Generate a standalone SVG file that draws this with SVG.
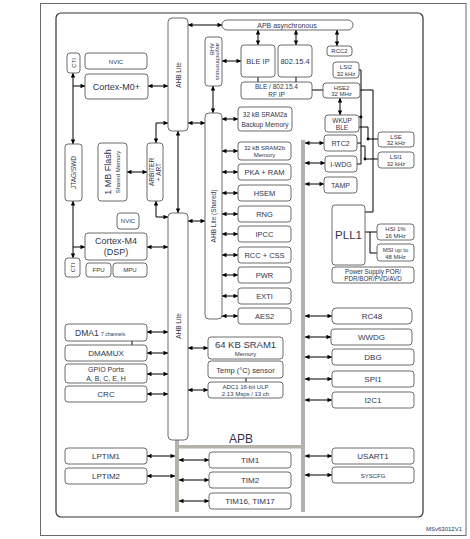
<svg xmlns="http://www.w3.org/2000/svg" width="470" height="539" viewBox="0 0 470 539">
<defs>
<style>
.b{fill:#fff;stroke:#5b5b5b;stroke-width:0.9}
.t{font-family:"Liberation Sans",Arial,sans-serif;fill:#30354d;text-anchor:middle}
.c{stroke:#000;stroke-width:1;fill:none}
.d{stroke:#000;stroke-width:1;fill:none;marker-start:url(#a);marker-end:url(#a)}
.e{stroke:#000;stroke-width:1;fill:none;marker-end:url(#a)}
.g{fill:#b5b1ab}
</style>
<marker id="a" viewBox="0 0 6 6" refX="6" refY="3" markerWidth="5" markerHeight="4.5" markerUnits="userSpaceOnUse" orient="auto-start-reverse"><path d="M0,0 L6,3 L0,6 z" fill="#000"/></marker>
</defs>
<rect x="0" y="0" width="470" height="539" fill="#fff"/>
<rect x="40.5" y="3.5" width="425.5" height="532" fill="none" stroke="#6a6a6a" stroke-width="1"/>
<rect x="56" y="13" width="367" height="504" rx="5" fill="none" stroke="#333" stroke-width="1.2"/>
<rect class="g" x="301" y="140" width="4" height="372"/>
<rect class="g" x="175" y="440" width="4" height="72"/>
<rect class="g" x="175" y="445" width="130" height="3.5"/>
<text class="t" x="241" y="443" font-size="12">APB</text>
<text x="462" y="531" font-family="'Liberation Sans',Arial,sans-serif" font-size="6" fill="#30354d" text-anchor="end">MSv63012V1</text>

<g id="connectors">
<path class="d" d="M73,73 V144"/>
<path class="e" d="M73,86 H85"/>
<path class="d" d="M148,86 H168"/>
<path class="d" d="M188,25 H222"/>
<path class="d" d="M188,123 H205"/>
<path class="d" d="M222,61 H241"/>
<path class="d" d="M213,86 V113"/>
<path class="d" d="M258,30 V45"/>
<path class="d" d="M296,30 V45"/>
<path class="d" d="M337,30 V46"/>
<path class="c" d="M258,77 V82 M296,77 V82 M312,90 H323"/>
<path class="d" d="M340,98 V115"/>
<path class="d" d="M222,119 H238"/>
<path class="d" d="M168,123 H156 V143"/>
<path class="d" d="M127,172 H147"/>
<path class="d" d="M178,131 V213"/>
<path class="d" d="M156,201 V217 H168"/>
<path class="d" d="M73,201 V258"/>
<path class="e" d="M73,247 H85"/>
<path class="d" d="M147,247 H168"/>
<path class="d" d="M188,221 H205"/>
<path class="d" d="M222,151 H238"/>
<path class="d" d="M222,172 H238"/>
<path class="d" d="M222,193 H238"/>
<path class="d" d="M222,214 H238"/>
<path class="d" d="M222,234 H238"/>
<path class="d" d="M222,255 H238"/>
<path class="d" d="M222,275 H238"/>
<path class="d" d="M222,296 H238"/>
<path class="d" d="M222,316 H238"/>
<path class="d" d="M147,332 H168"/>
<path class="d" d="M147,353 H168"/>
<path class="d" d="M147,374 H168"/>
<path class="d" d="M147,394 H168"/>
<path class="c" d="M132,341 V345 M246,378 V382"/>
<path class="d" d="M188,348 H208"/>
<path class="d" d="M188,390 H208"/>
<path class="d" d="M305,143 H324"/>
<path class="d" d="M305,163 H325"/>
<path class="d" d="M305,184 H324"/>
<path class="d" d="M305,316 H332"/>
<path class="d" d="M305,337 H331"/>
<path class="d" d="M305,357 H332"/>
<path class="d" d="M305,379 H332"/>
<path class="d" d="M305,400 H332"/>
<path class="d" d="M147,456 H175"/>
<path class="d" d="M147,476 H175"/>
<path class="d" d="M179,460 H209"/>
<path class="d" d="M179,480 H209"/>
<path class="d" d="M179,501 H209"/>
<path class="d" d="M305,456 H332"/>
<path class="d" d="M305,475 H332"/>
<path class="c" stroke-width="0.8" d="M359,70 H361 V164 H357 M357,143 H361 M359,117 H361 M359,127 H368 V139 H378 M378,159 H365 V146 H361 M360,90 H373 V212 H365 M365,232 H377 M370,232 V253 H377"/>
<circle cx="361" cy="117" r="1.4"/>
<circle cx="368" cy="139" r="1.4"/>
<circle cx="365" cy="159" r="1.4"/>
</g>

<g id="nvic0"><rect class="b" x="85" y="53" width="62" height="16" rx="3"/><text class="t" x="116" y="63.5" font-size="6">NVIC</text></g>
<g id="cti0"><rect class="b" x="67" y="53" width="13" height="20" rx="3"/><text class="t" font-size="6" transform="translate(75.5,63) rotate(-90)">CTI</text></g>
<g id="cortexm0"><rect class="b" x="85" y="74" width="63" height="25" rx="3"/><text class="t" x="116.5" y="89.5" font-size="9">Cortex-M0+</text></g>
<g id="ahblite0"><rect class="b" x="168" y="18" width="20" height="113" rx="4"/><text class="t" font-size="6.5" transform="translate(180.5,75) rotate(-90)">AHB Lite</text></g>
<g id="apbasync"><rect class="b" x="222" y="20" width="131" height="10" rx="5"/><text class="t" x="287" y="27.5" font-size="7">APB asynchronous</text></g>
<g id="ahbasync"><rect class="b" x="205" y="37" width="17" height="49" rx="3"/><text font-family="'Liberation Sans',Arial,sans-serif" fill="#30354d" font-size="6" transform="translate(216,43) rotate(90)"><tspan x="0" y="0">asynchronous</tspan><tspan x="0" y="6.5">AHB</tspan></text></g>
<g id="bleip"><rect class="b" x="241" y="45" width="34" height="32" rx="3"/><text class="t" x="258" y="63.5" font-size="7.5">BLE IP</text></g>
<g id="ieee"><rect class="b" x="278" y="45" width="34" height="32" rx="3"/><text class="t" x="295" y="63.5" font-size="7.5">802.15.4</text></g>
<g id="rfip"><rect class="b" x="241" y="82" width="71" height="17" rx="3"/><text class="t" x="276.5" y="89" font-size="6.5">BLE / 802.15.4</text><text class="t" x="276.5" y="97" font-size="6.5">RF IP</text></g>
<g id="rcc2"><rect class="b" x="327" y="46" width="25" height="10" rx="3"/><text class="t" x="339.5" y="53.3" font-size="6">RCC2</text></g>
<g id="lsi2"><rect class="b" x="333" y="62" width="26" height="16" rx="3"/><text class="t" x="346" y="69" font-size="6">LSI2</text><text class="t" x="346" y="76" font-size="6">32 kHz</text></g>
<g id="hse2"><rect class="b" x="323" y="83" width="37" height="15" rx="3"/><text class="t" x="341.5" y="89.5" font-size="6">HSE2</text><text class="t" x="341.5" y="96.3" font-size="6">32 MHz</text></g>
<g id="wkup"><rect class="b" x="325" y="115" width="34" height="17" rx="3"/><text class="t" x="342" y="122.5" font-size="6.5">WKUP</text><text class="t" x="342" y="130" font-size="6.5">BLE</text></g>
<g id="sram2a"><rect class="b" x="238" y="107" width="54" height="24" rx="3"/><text class="t" x="265" y="117" font-size="6.5">32 kB SRAM2a</text><text class="t" x="265" y="127" font-size="6.5">Backup Memory</text></g>
<g id="ahbshared"><rect class="b" x="205" y="113" width="17" height="206" rx="4"/><text class="t" font-size="6.5" transform="translate(215.5,216) rotate(-90)">AHB Lite (Shared)</text></g>
<g id="jtag"><rect class="b" x="65" y="144" width="17" height="57" rx="3"/><text class="t" font-size="6.5" transform="translate(75.8,172.5) rotate(-90)">JTAG/SWD</text></g>
<g id="flash"><rect class="b" x="98" y="143" width="29" height="58" rx="3"/><text class="t" font-size="9" transform="translate(111,172) rotate(-90)">1 MB Flash</text><text class="t" font-size="6" transform="translate(119.5,172) rotate(-90)">Shared Memory</text></g>
<g id="arbiter"><rect class="b" x="147" y="143" width="16" height="58" rx="3"/><text class="t" font-size="6.5" transform="translate(153.5,172) rotate(-90)">ARBITER</text><text class="t" font-size="6.5" transform="translate(160.5,172) rotate(-90)">+ ART</text></g>
<g id="ahblite1"><rect class="b" x="168" y="213" width="20" height="227" rx="4"/><text class="t" font-size="6.5" transform="translate(180.5,326) rotate(-90)">AHB Lite</text></g>
<g id="nvic1"><rect class="b" x="117" y="213" width="22" height="16" rx="3"/><text class="t" x="128" y="223.3" font-size="6">NVIC</text></g>
<g id="cortexm4"><rect class="b" x="85" y="233" width="62" height="27" rx="3"/><text class="t" x="116" y="244" font-size="9">Cortex-M4</text><text class="t" x="116" y="255" font-size="9">(DSP)</text></g>
<g id="fpu"><rect class="b" x="86" y="263" width="25" height="14" rx="3"/><text class="t" x="98.5" y="272.2" font-size="6">FPU</text></g>
<g id="mpu"><rect class="b" x="113" y="263" width="34" height="14" rx="3"/><text class="t" x="130" y="272.2" font-size="6">MPU</text></g>
<g id="cti1"><rect class="b" x="65" y="258" width="15" height="19" rx="3"/><text class="t" font-size="6" transform="translate(74.5,267.5) rotate(-90)">CTI</text></g>
<g id="sram2b"><rect class="b" x="238" y="142" width="53" height="18" rx="3"/><text class="t" x="264.5" y="149.5" font-size="6">32 kB SRAM2b</text><text class="t" x="264.5" y="157" font-size="6">Memory</text></g>
<g id="pka"><rect class="b" x="238" y="164" width="53" height="16" rx="3"/><text class="t" x="264.5" y="175" font-size="7.5">PKA + RAM</text></g>
<g id="hsem"><rect class="b" x="238" y="185" width="53" height="16" rx="3"/><text class="t" x="264.5" y="196" font-size="7.5">HSEM</text></g>
<g id="rng"><rect class="b" x="238" y="206" width="53" height="16" rx="3"/><text class="t" x="264.5" y="217" font-size="7.5">RNG</text></g>
<g id="ipcc"><rect class="b" x="238" y="226" width="53" height="16" rx="3"/><text class="t" x="264.5" y="237" font-size="7.5">IPCC</text></g>
<g id="rcccss"><rect class="b" x="238" y="247" width="53" height="16" rx="3"/><text class="t" x="264.5" y="258" font-size="7.5">RCC + CSS</text></g>
<g id="pwr"><rect class="b" x="238" y="267" width="53" height="16" rx="3"/><text class="t" x="264.5" y="278" font-size="7.5">PWR</text></g>
<g id="exti"><rect class="b" x="238" y="288" width="53" height="16" rx="3"/><text class="t" x="264.5" y="299" font-size="7.5">EXTI</text></g>
<g id="aes2"><rect class="b" x="238" y="308" width="53" height="16" rx="3"/><text class="t" x="264.5" y="319" font-size="7.5">AES2</text></g>
<g id="rtc2"><rect class="b" x="324" y="135" width="33" height="16" rx="3"/><text class="t" x="340.5" y="145.5" font-size="7">RTC2</text></g>
<g id="iwdg"><rect class="b" x="325" y="156" width="32" height="16" rx="3"/><text class="t" x="341" y="166.5" font-size="7">I-WDG</text></g>
<g id="tamp"><rect class="b" x="324" y="177" width="33" height="16" rx="3"/><text class="t" x="340.5" y="187.5" font-size="7">TAMP</text></g>
<g id="lse"><rect class="b" x="378" y="132" width="36" height="15" rx="3"/><text class="t" x="396" y="138.5" font-size="6">LSE</text><text class="t" x="396" y="145.3" font-size="6">32 kHz</text></g>
<g id="lsi1"><rect class="b" x="378" y="152" width="36" height="16" rx="3"/><text class="t" x="396" y="159" font-size="6">LSI1</text><text class="t" x="396" y="166" font-size="6">32 kHz</text></g>
<g id="pll1"><rect class="b" x="332" y="205" width="33" height="60" rx="3"/><text class="t" x="348.5" y="239" font-size="11.5">PLL1</text></g>
<g id="hsi"><rect class="b" x="377" y="224" width="37" height="16" rx="3"/><text class="t" x="395.5" y="231" font-size="6">HSI 1%</text><text class="t" x="395.5" y="238" font-size="6">16 MHz</text></g>
<g id="msi"><rect class="b" x="377" y="244" width="37" height="17" rx="3"/><text class="t" x="395.5" y="251.5" font-size="6">MSI up to</text><text class="t" x="395.5" y="258.8" font-size="6">48 MHz</text></g>
<g id="power"><rect class="b" x="332" y="267" width="82" height="16" rx="3"/><text class="t" x="373" y="274" font-size="6.3">Power Supply POR/</text><text class="t" x="373" y="281.3" font-size="6.3">PDR/BOR/PVD/AVD</text></g>
<g id="dma1"><rect class="b" x="65" y="324" width="82" height="17" rx="3"/><text x="75" y="335.5" font-family="'Liberation Sans',Arial,sans-serif" fill="#30354d" font-size="8.5">DMA1 <tspan font-size="5">7 channels</tspan></text></g>
<g id="dmamux"><rect class="b" x="65" y="345" width="82" height="16" rx="3"/><text class="t" x="106" y="356" font-size="8">DMAMUX</text></g>
<g id="gpio"><rect class="b" x="65" y="364" width="82" height="19" rx="3"/><text class="t" x="106" y="372" font-size="7">GPIO Ports</text><text class="t" x="106" y="380.5" font-size="7">A, B, C, E, H</text></g>
<g id="crc"><rect class="b" x="65" y="386" width="82" height="16" rx="3"/><text class="t" x="106" y="397" font-size="8">CRC</text></g>
<g id="sram1"><rect class="b" x="208" y="337" width="75" height="22" rx="3"/><text class="t" x="245.5" y="348" font-size="9.5">64 KB SRAM1</text><text class="t" x="245.5" y="356" font-size="6">Memory</text></g>
<g id="temp"><rect class="b" x="208" y="361" width="75" height="17" rx="3"/><text class="t" x="245.5" y="372.5" font-size="7.5">Temp (°C) sensor</text></g>
<g id="adc"><rect class="b" x="208" y="382" width="75" height="16" rx="3"/><text class="t" x="245.5" y="388.8" font-size="6">ADC1 16-bit ULP</text><text class="t" x="245.5" y="396" font-size="6">2.13 Msps / 13 ch</text></g>
<g id="rc48"><rect class="b" x="332" y="308" width="80" height="16" rx="4"/><text class="t" x="372" y="319" font-size="8">RC48</text></g>
<g id="wwdg"><rect class="b" x="331" y="329" width="81" height="16" rx="3"/><text class="t" x="371.5" y="340" font-size="8">WWDG</text></g>
<g id="dbg"><rect class="b" x="332" y="349" width="82" height="16" rx="3"/><text class="t" x="373" y="360" font-size="8">DBG</text></g>
<g id="spi1"><rect class="b" x="332" y="371" width="82" height="16" rx="3"/><text class="t" x="373" y="382" font-size="8">SPI1</text></g>
<g id="i2c1"><rect class="b" x="332" y="392" width="82" height="16" rx="3"/><text class="t" x="373" y="403" font-size="8">I2C1</text></g>
<g id="lptim1"><rect class="b" x="65" y="448" width="82" height="16" rx="3"/><text class="t" x="106" y="459" font-size="8">LPTIM1</text></g>
<g id="lptim2"><rect class="b" x="65" y="468" width="82" height="16" rx="3"/><text class="t" x="106" y="479" font-size="8">LPTIM2</text></g>
<g id="tim1"><rect class="b" x="209" y="452" width="82" height="16" rx="3"/><text class="t" x="250" y="463" font-size="8">TIM1</text></g>
<g id="tim2"><rect class="b" x="209" y="472" width="82" height="16" rx="3"/><text class="t" x="250" y="483" font-size="8">TIM2</text></g>
<g id="tim1617"><rect class="b" x="209" y="493" width="82" height="16" rx="3"/><text class="t" x="250" y="504" font-size="8">TIM16, TIM17</text></g>
<g id="usart1"><rect class="b" x="332" y="448" width="82" height="16" rx="3"/><text class="t" x="373" y="459" font-size="8">USART1</text></g>
<g id="syscfg"><rect class="b" x="332" y="467" width="82" height="16" rx="3"/><text class="t" x="373" y="477.5" font-size="6">SYSCFG</text></g>
</svg>
